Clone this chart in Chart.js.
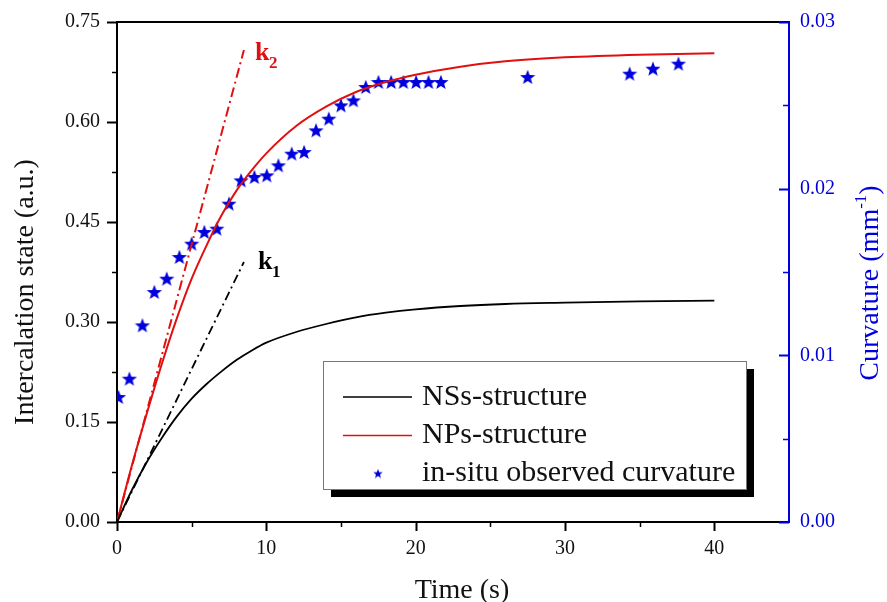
<!DOCTYPE html>
<html>
<head>
<meta charset="utf-8">
<title>Intercalation state vs time</title>
<script src="https://cdn.jsdelivr.net/npm/chart.js@4.4.1/dist/chart.umd.min.js"></script>
<style>
    html, body { margin: 0; padding: 0; background: #fff; }
    #c1 { display: block; }
</style>
</head>
<body>
<canvas id="c1" width="887" height="602"></canvas>
<script>
"use strict";

// model curves (time s -> intercalation state a.u.)
let tCurve = [0, 1, 2, 3, 4, 5, 6, 7, 8, 9, 10, 12, 14, 16, 18, 20, 23, 26, 30, 35, 40];
let nssVals = [0, 0.048, 0.090, 0.126, 0.158, 0.185, 0.207, 0.226, 0.243, 0.257, 0.269, 0.285, 0.297, 0.307, 0.314, 0.319, 0.324, 0.327, 0.329, 0.331, 0.332];
let npsVals = [0, 0.085, 0.163, 0.237, 0.305, 0.365, 0.415, 0.460, 0.497, 0.527, 0.553, 0.594, 0.623, 0.645, 0.660, 0.671, 0.683, 0.691, 0.697, 0.701, 0.703];

// initial slopes k1 / k2
let k1T = [0, 8.5];
let k1Vals = [0, 0.39];
let k2T = [0, 8.5];
let k2Vals = [0, 0.708];

// in-situ observed curvature (mm^-1), right axis
let obsT = [0.1, 0.83, 1.70, 2.50, 3.33, 4.18, 5.0, 5.85, 6.68, 7.50, 8.31, 9.2, 10.03, 10.81, 11.7, 12.53, 13.33, 14.18, 15.0, 15.83, 16.66, 17.51, 18.36, 19.18, 20.03, 20.86, 21.69, 27.5, 34.33, 35.89, 37.6];
let obsCurv = [0.0075, 0.0086, 0.0118, 0.0138, 0.0146, 0.0159, 0.0167, 0.0174, 0.0176, 0.0191, 0.0205, 0.0207, 0.0208, 0.0214, 0.0221, 0.0222, 0.0235, 0.0242, 0.0250, 0.0253, 0.0261, 0.0264, 0.0264, 0.0264, 0.0264, 0.0264, 0.0264, 0.0267, 0.0269, 0.0272, 0.0275];

// axis ranges / tick steps
let xRange = [0, 45];
let xStep = 5;
let xLabelEvery = 10;
let yRange = [0, 0.75];
let yStep = 0.075;
let yLabelEvery = 0.15;
let y2Range = [0, 0.03];
let y2Step = 0.005;
let y2LabelEvery = 0.01;

let legendLabels = ['NSs-structure', 'NPs-structure', 'in-situ observed curvature'];

const SERIF = '"Liberation Serif", "Times New Roman", serif';
const BLUE = '#0000dd';
const RED = '#e01010';

function pts(xs, ys) {
    return xs.map((x, i) => ({x: x, y: ys[i]}));
}

function isMultiple(v, step) {
    let q = v / step;
    return Math.abs(q - Math.round(q)) < 1e-6;
}

// filled five point star used as point style
function makeStar(size, color) {
    let c = document.createElement('canvas');
    c.width = size; c.height = size;
    let g = c.getContext('2d');
    let R = size / 2, r = R * 0.42;
    g.beginPath();
    for (let i = 0; i < 10; i++) {
        let a = -Math.PI / 2 + i * Math.PI / 5;
        let rad = (i % 2 === 0) ? R : r;
        let px = R + rad * Math.cos(a), py = R + rad * Math.sin(a) + size * 0.04;
        if (i === 0) g.moveTo(px, py); else g.lineTo(px, py);
    }
    g.closePath();
    g.fillStyle = color;
    g.fill();
    return c;
}

let starBig = makeStar(16, BLUE);
let starSmall = makeStar(10, BLUE);

// fixed axis box sizes, no extra label overhang padding
function fixWidth(w) {
    return s => { s.width = w; s.paddingTop = 0; s.paddingBottom = 0; };
}

// tick marks, frame, titles, k labels and the boxed legend
let decor = {
    id: 'decor',
    afterDraw(chart) {
        let ctx = chart.ctx;
        let a = chart.chartArea;
        let sx = chart.scales.x, sy = chart.scales.y, sy2 = chart.scales.y2;
        ctx.save();

        // top frame line
        ctx.strokeStyle = '#000';
        ctx.lineWidth = 2;
        ctx.beginPath();
        ctx.moveTo(a.left - 1, a.top);
        ctx.lineTo(a.right, a.top);
        ctx.stroke();

        // x ticks (outward)
        sx.ticks.forEach(t => {
            if (t.value >= xRange[1]) return;
            let p = Math.round(sx.getPixelForValue(t.value)) + 0.5;
            let major = isMultiple(t.value, xLabelEvery);
            ctx.lineWidth = major ? 2 : 1.5;
            ctx.beginPath();
            ctx.moveTo(p, a.bottom);
            ctx.lineTo(p, a.bottom + (major ? 9 : 5));
            ctx.stroke();
        });
        // left y ticks (outward)
        sy.ticks.forEach(t => {
            let p = Math.round(sy.getPixelForValue(t.value)) + 0.5;
            let major = isMultiple(t.value, yLabelEvery);
            ctx.lineWidth = major ? 2 : 1.5;
            ctx.beginPath();
            ctx.moveTo(a.left, p);
            ctx.lineTo(a.left - (major ? 10 : 5), p);
            ctx.stroke();
        });
        // right y ticks (inward, blue)
        ctx.strokeStyle = BLUE;
        sy2.ticks.forEach(t => {
            let p = Math.round(sy2.getPixelForValue(t.value)) + 0.5;
            let major = isMultiple(t.value, y2LabelEvery);
            ctx.lineWidth = major ? 2 : 1.5;
            ctx.beginPath();
            ctx.moveTo(a.right, p);
            ctx.lineTo(a.right - (major ? 10 : 6), p);
            ctx.stroke();
        });

        // axis titles
        ctx.fillStyle = '#111';
        ctx.font = '28px ' + SERIF;
        ctx.textBaseline = 'alphabetic';
        ctx.textAlign = 'center';
        ctx.fillText('Time (s)', (a.left + a.right) / 2 + 9, chart.height - 4);

        ctx.save();
        ctx.translate(33, (a.top + a.bottom) / 2 + 20);
        ctx.rotate(-Math.PI / 2);
        ctx.fillText('Intercalation state (a.u.)', 0, 0);
        ctx.restore();

        // right title with superscript
        ctx.save();
        ctx.fillStyle = BLUE;
        ctx.translate(878, (a.top + a.bottom) / 2 + 11);
        ctx.rotate(-Math.PI / 2);
        let mainFont = '28px ' + SERIF, supFont = '17px ' + SERIF;
        ctx.font = mainFont;
        let w1 = ctx.measureText('Curvature (mm').width;
        let w3 = ctx.measureText(')').width;
        ctx.font = supFont;
        let w2 = ctx.measureText('-1').width;
        let x0 = -(w1 + w2 + w3) / 2;
        ctx.textAlign = 'left';
        ctx.font = mainFont;
        ctx.fillText('Curvature (mm', x0, 0);
        ctx.font = supFont;
        ctx.fillText('-1', x0 + w1, -12);
        ctx.font = mainFont;
        ctx.fillText(')', x0 + w1 + w2, 0);
        ctx.restore();

        // k1 / k2 labels next to the tangent ends
        let k1x = sx.getPixelForValue(k1T[1]), k1y = sy.getPixelForValue(k1Vals[1]);
        let k2x = sx.getPixelForValue(k2T[1]), k2y = sy.getPixelForValue(k2Vals[1]);
        ctx.textAlign = 'left';
        ctx.fillStyle = '#000';
        ctx.font = 'bold 26px ' + SERIF;
        ctx.fillText('k', k1x + 14, k1y + 7);
        ctx.font = 'bold 17px ' + SERIF;
        ctx.fillText('1', k1x + 28, k1y + 15);
        ctx.fillStyle = RED;
        ctx.font = 'bold 26px ' + SERIF;
        ctx.fillText('k', k2x + 11, k2y + 10);
        ctx.font = 'bold 17px ' + SERIF;
        ctx.fillText('2', k2x + 25, k2y + 18);

        // legend box with drop shadow
        let lx = a.left + 206, ly = a.top + 339, lw = 423, lh = 128;
        ctx.fillStyle = '#000';
        ctx.fillRect(lx + 8, ly + 8, lw, lh);
        ctx.fillStyle = '#fff';
        ctx.fillRect(lx, ly, lw, lh);
        ctx.strokeStyle = '#777';
        ctx.lineWidth = 1;
        ctx.strokeRect(lx + 0.5, ly + 0.5, lw, lh);

        let ds = chart.data.datasets;
        let rows = [ly + 36, ly + 74.5, ly + 112.5];
        ctx.font = '30px ' + SERIF;
        ctx.textBaseline = 'middle';
        for (let i = 0; i < 3; i++) {
            let y = rows[i];
            if (i < 2) {
                ctx.strokeStyle = ds[i].borderColor;
                ctx.lineWidth = 1.6;
                ctx.beginPath();
                ctx.moveTo(lx + 20, y);
                ctx.lineTo(lx + 89, y);
                ctx.stroke();
            } else {
                ctx.drawImage(starSmall, lx + 55 - 5, y - 5);
            }
            ctx.fillStyle = '#111';
            ctx.fillText(legendLabels[i], lx + 99, y);
        }
        ctx.restore();
    }
};

let c1 = document.querySelector('#c1');

let opts = {
    type: 'scatter',
    data: {
        datasets: [
            {label: legendLabels[0], data: pts(tCurve, nssVals), showLine: true, borderColor: '#000', borderWidth: 1.8,
             pointRadius: 0, cubicInterpolationMode: 'monotone', yAxisID: 'y'},
            {label: legendLabels[1], data: pts(tCurve, npsVals), showLine: true, borderColor: RED, borderWidth: 2,
             pointRadius: 0, cubicInterpolationMode: 'monotone', yAxisID: 'y'},
            {label: 'k1', data: pts(k1T, k1Vals), showLine: true, borderColor: '#000', borderWidth: 1.8,
             borderDash: [9, 4, 2, 4], pointRadius: 0, yAxisID: 'y'},
            {label: 'k2', data: pts(k2T, k2Vals), showLine: true, borderColor: RED, borderWidth: 2,
             borderDash: [10, 4, 2, 4], pointRadius: 0, yAxisID: 'y'},
            {label: legendLabels[2], data: pts(obsT, obsCurv), showLine: false, pointStyle: starBig,
             pointRadius: 8, yAxisID: 'y2'},
        ],
    },
    options: {
        responsive: false,
        animation: false,
        layout: {padding: {top: 22, left: 0, right: 0, bottom: 0}},
        plugins: {legend: {display: false}, tooltip: {enabled: false}},
        scales: {
            x: {
                type: 'linear', min: xRange[0], max: xRange[1],
                grid: {display: false, drawTicks: false},
                border: {display: true, color: '#000', width: 2},
                ticks: {
                    stepSize: xStep, autoSkip: false, maxRotation: 0, padding: 15,
                    color: '#111', font: {family: SERIF, size: 20},
                    callback: v => (isMultiple(v, xLabelEvery) && v < xRange[1]) ? String(v) : '',
                },
                afterFit: s => { s.height = 80; s.paddingLeft = 0; s.paddingRight = 0; },
            },
            y: {
                position: 'left', min: yRange[0], max: yRange[1],
                grid: {display: false, drawTicks: false},
                border: {display: true, color: '#000', width: 2},
                ticks: {
                    stepSize: yStep, autoSkip: false, padding: 17,
                    color: '#111', font: {family: SERIF, size: 20},
                    callback: v => isMultiple(v, yLabelEvery) ? v.toFixed(2) : '',
                },
                afterFit: fixWidth(117),
            },
            y2: {
                position: 'right', min: y2Range[0], max: y2Range[1],
                grid: {display: false, drawTicks: false},
                border: {display: true, color: BLUE, width: 2},
                ticks: {
                    stepSize: y2Step, autoSkip: false, padding: 11,
                    color: BLUE, font: {family: SERIF, size: 20},
                    callback: v => isMultiple(v, y2LabelEvery) ? v.toFixed(2) : '',
                },
                afterFit: fixWidth(98),
            },
        },
    },
    plugins: [decor],
};

let chart1 = new Chart(c1, opts);
</script>
</body>
</html>
